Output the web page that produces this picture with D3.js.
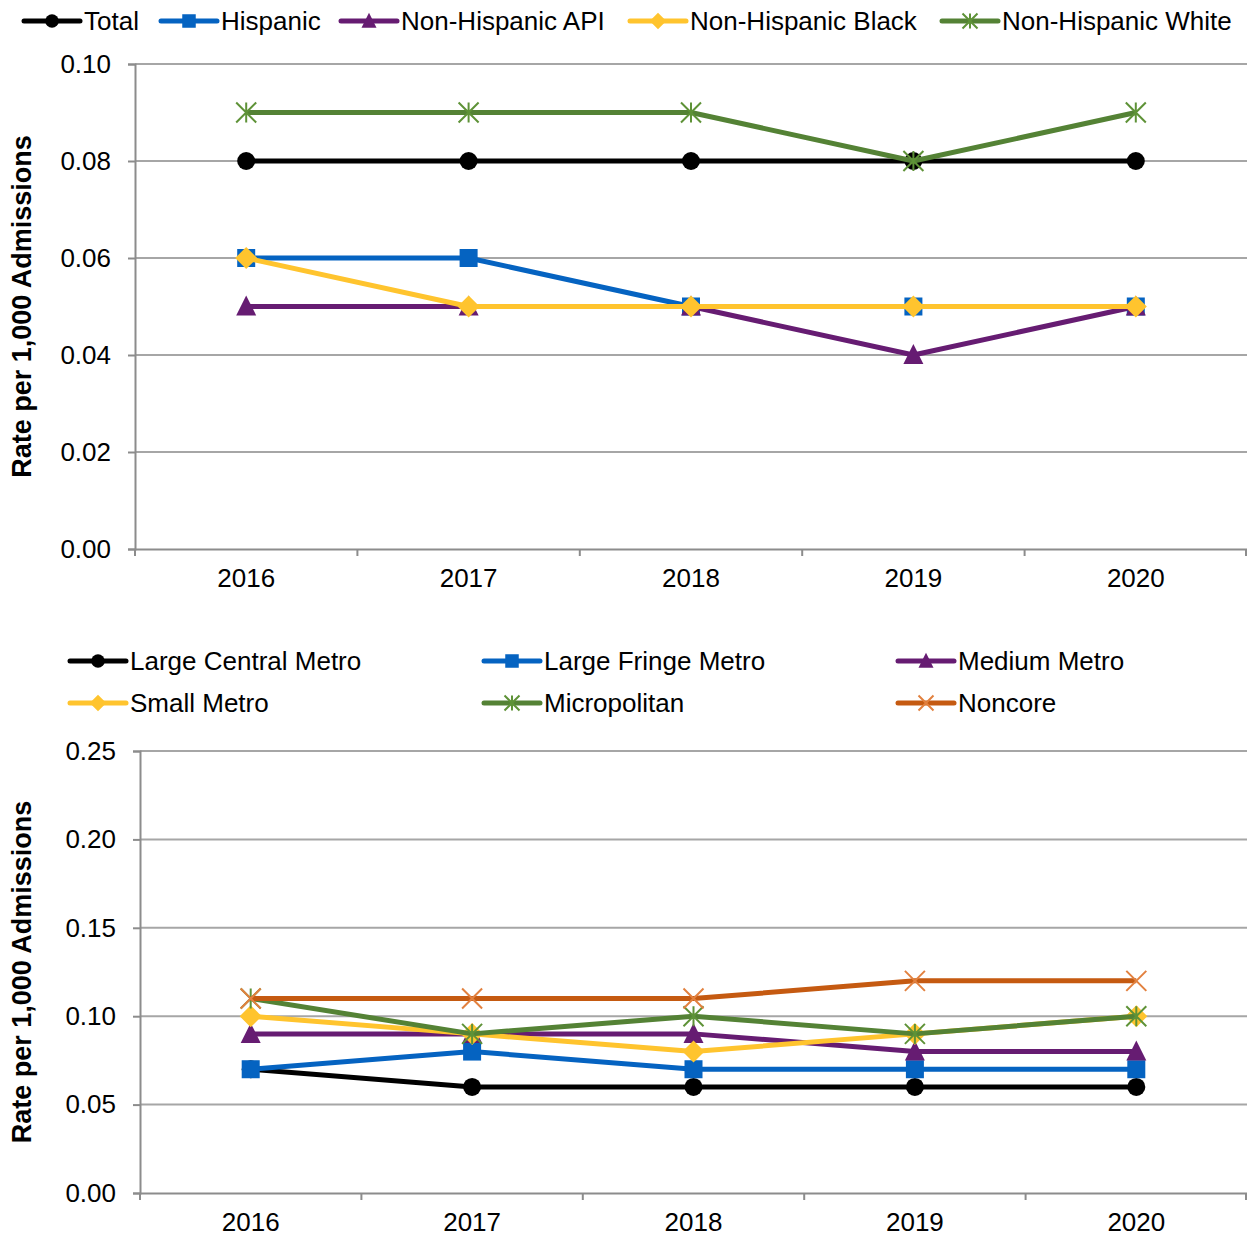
<!DOCTYPE html>
<html>
<head>
<meta charset="utf-8">
<script src="https://cdn.jsdelivr.net/npm/d3@7"></script>
<style>
  body { margin: 0; background: #fff; }
  text { font-family: "Liberation Sans", Arial, sans-serif; }
</style>
</head>
<body>
<div id="container"></div>
<script>
/* DATA */
const years = ["2016", "2017", "2018", "2019", "2020"];

// top chart: race / ethnicity
const raceNames = ["Total", "Hispanic", "Non-Hispanic API", "Non-Hispanic Black", "Non-Hispanic White"];
const total    = [0.08, 0.08, 0.08, 0.08, 0.08];
const hispanic = [0.06, 0.06, 0.05, 0.05, 0.05];
const nhApi    = [0.05, 0.05, 0.05, 0.04, 0.05];
const nhBlack  = [0.06, 0.05, 0.05, 0.05, 0.05];
const nhWhite  = [0.09, 0.09, 0.09, 0.08, 0.09];
const raceTicks = [0, 0.02, 0.04, 0.06, 0.08, 0.10];

// bottom chart: urbanization
const urbanNames = ["Large Central Metro", "Large Fringe Metro", "Medium Metro", "Small Metro", "Micropolitan", "Noncore"];
const largeCentral = [0.07, 0.06, 0.06, 0.06, 0.06];
const largeFringe  = [0.07, 0.08, 0.07, 0.07, 0.07];
const mediumMetro  = [0.09, 0.09, 0.09, 0.08, 0.08];
const smallMetro   = [0.10, 0.09, 0.08, 0.09, 0.10];
const micropolitan = [0.11, 0.09, 0.10, 0.09, 0.10];
const noncore      = [0.11, 0.11, 0.11, 0.12, 0.12];
const urbanTicks = [0, 0.05, 0.10, 0.15, 0.20, 0.25];

/* STYLES */
const styles = {
  black:  {color: "#000000", mark: "#000000", shape: "circle"},
  blue:   {color: "#0563C1", mark: "#0563C1", shape: "square"},
  purple: {color: "#661C72", mark: "#661C72", shape: "triangle"},
  yellow: {color: "#FFC42E", mark: "#FFC42E", shape: "diamond"},
  green:  {color: "#548235", mark: "#5E9237", shape: "star"},
  orange: {color: "#C55A11", mark: "#E2813F", shape: "x"}
};

const raceSeries = [
  {name: raceNames[0], values: total,    s: styles.black},
  {name: raceNames[1], values: hispanic, s: styles.blue},
  {name: raceNames[2], values: nhApi,    s: styles.purple},
  {name: raceNames[3], values: nhBlack,  s: styles.yellow},
  {name: raceNames[4], values: nhWhite,  s: styles.green}
];
const urbanSeries = [
  {name: urbanNames[0], values: largeCentral, s: styles.black},
  {name: urbanNames[1], values: largeFringe,  s: styles.blue},
  {name: urbanNames[2], values: mediumMetro,  s: styles.purple},
  {name: urbanNames[3], values: smallMetro,   s: styles.yellow},
  {name: urbanNames[4], values: micropolitan, s: styles.green},
  {name: urbanNames[5], values: noncore,      s: styles.orange}
];

const W = 1247, H = 1237;
const FS = 26;
const svg = d3.select("#container").append("svg")
  .attr("width", W).attr("height", H);

// draw a marker centred at 0,0
function marker(g, s, k) {
  const c = s.mark;
  if (s.shape === "circle") {
    g.append("circle").attr("r", 9 * k).attr("fill", c);
  } else if (s.shape === "square") {
    g.append("rect").attr("x", -9 * k).attr("y", -9 * k)
      .attr("width", 18 * k).attr("height", 18 * k).attr("fill", c);
  } else if (s.shape === "triangle") {
    g.append("path").attr("d", `M0,${-11*k}L${10*k},${9*k}L${-10*k},${9*k}Z`).attr("fill", c);
  } else if (s.shape === "diamond") {
    g.append("path").attr("d", `M0,${-11*k}L${11*k},0L0,${11*k}L${-11*k},0Z`).attr("fill", c);
  } else {
    const r = 10 * k;
    let d = `M${-r},${-r}L${r},${r}M${-r},${r}L${r},${-r}`;
    if (s.shape === "star") d += `M0,${-r}L0,${r}`;
    g.append("path").attr("d", d).attr("stroke", c).attr("stroke-width", 2).attr("fill", "none");
  }
}

function drawChart(opt) {
  const x = d3.scaleBand().domain(years).range([opt.left, W]);
  const y = d3.scaleLinear().domain([0, d3.max(opt.ticks)]).range([opt.bottom, opt.top]);
  const g = svg.append("g");

  // gridlines
  g.selectAll(".grid").data(opt.ticks.slice(1)).join("line")
    .attr("x1", opt.left).attr("x2", W)
    .attr("y1", d => y(d)).attr("y2", d => y(d))
    .attr("stroke", "#A6A6A6").attr("stroke-width", 2);

  // y axis
  const ya = g.append("g").attr("transform", `translate(${opt.left},0)`)
    .call(d3.axisLeft(y).tickValues(opt.ticks).tickFormat(d3.format(".2f")).tickSize(7).tickPadding(17));
  ya.select(".domain").attr("stroke", "#8C8C8C").attr("stroke-width", 2);
  ya.selectAll(".tick line").attr("stroke", "#8C8C8C").attr("stroke-width", 2);
  ya.selectAll(".tick text").attr("font-size", FS).attr("fill", "#000")
    .style("font-family", "'Liberation Sans', Arial, sans-serif");

  // x axis
  const xa = g.append("g").attr("transform", `translate(0,${opt.bottom})`)
    .call(d3.axisBottom(x).tickSize(0).tickPadding(20));
  xa.select(".domain").attr("stroke", "#8C8C8C").attr("stroke-width", 2);
  xa.selectAll(".tick text").attr("font-size", FS).attr("fill", "#000")
    .style("font-family", "'Liberation Sans', Arial, sans-serif");
  const bounds = years.map(d => x(d)).concat([W - 1]);
  g.selectAll(".xt").data(bounds).join("line")
    .attr("x1", d => d).attr("x2", d => d)
    .attr("y1", opt.bottom).attr("y2", opt.bottom + 7)
    .attr("stroke", "#8C8C8C").attr("stroke-width", 2);

  // y title
  g.append("text")
    .attr("transform", `translate(${opt.titleX},${(opt.top + opt.bottom) / 2}) rotate(-90)`)
    .attr("text-anchor", "middle").attr("dominant-baseline", "central")
    .attr("font-size", 27).attr("font-weight", "bold").text("Rate per 1,000 Admissions");

  // series
  const cx = d => x(d) + x.bandwidth() / 2;
  const line = d3.line().x((d, i) => cx(years[i])).y(d => y(d));
  opt.series.forEach(ser => {
    const sg = g.append("g");
    sg.append("path").attr("d", line(ser.values))
      .attr("fill", "none").attr("stroke", ser.s.color).attr("stroke-width", 5)
      .attr("stroke-linejoin", "round");
    ser.values.forEach((v, i) => {
      marker(sg.append("g").attr("transform", `translate(${cx(years[i])},${y(v)})`), ser.s, 1);
    });
  });

  // legend
  opt.series.forEach((ser, i) => {
    const p = opt.legendPos(i);
    const lg = svg.append("g").attr("transform", `translate(${p[0]},${p[1]})`);
    lg.append("line").attr("x1", 0).attr("x2", 56).attr("y1", 0).attr("y2", 0)
      .attr("stroke", ser.s.color).attr("stroke-width", 5).attr("stroke-linecap", "round");
    marker(lg.append("g").attr("transform", "translate(28,0)"), ser.s, 0.75);
    lg.append("text").attr("x", 60).attr("y", 0).attr("dominant-baseline", "central")
      .attr("font-size", FS).attr("fill", "#000").text(ser.name);
  });
}

const topLegendX = [24, 161, 341, 630, 942];
drawChart({
  series: raceSeries, ticks: raceTicks,
  left: 135, top: 64, bottom: 549, titleX: 22,
  legendPos: i => [topLegendX[i], 21]
});

const botLegendX = [70, 484, 898];
drawChart({
  series: urbanSeries, ticks: urbanTicks,
  left: 140, top: 751, bottom: 1193, titleX: 22,
  legendPos: i => [botLegendX[i % 3], i < 3 ? 661 : 703]
});
</script>
</body>
</html>
